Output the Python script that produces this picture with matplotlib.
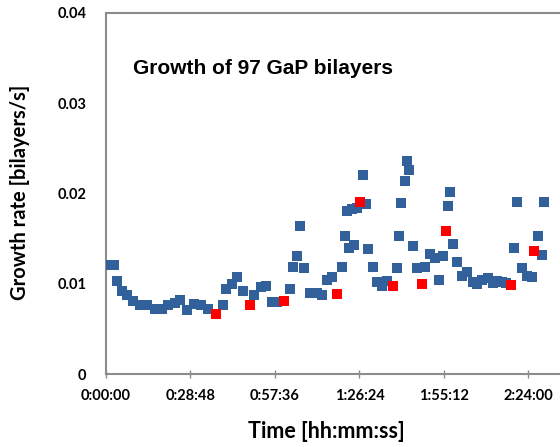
import matplotlib.pyplot as plt
import matplotlib.ticker as mticker

# growth time in minutes, rate in bilayers/s
t_blue = [1.4, 2.7, 3.8, 5.5, 7.2, 9.2, 11.6, 14.0, 16.7, 19.1, 21.1, 23.5,
          25.2, 27.6, 30.0, 32.4, 34.8, 39.9, 40.9, 42.9, 44.6, 46.7, 50.4,
          52.8, 54.5, 56.6, 58.3, 62.7, 63.7, 65.1, 66.1, 67.5, 69.5, 71.9,
          73.6, 75.3, 77.0, 80.4, 81.5, 82.8, 84.5, 82.1, 83.8, 85.5, 88.6,
          87.6, 89.3, 91.0, 92.4, 94.1, 95.8, 99.2, 99.9, 100.5, 101.9, 103.3,
          102.6, 104.6, 106.0, 108.7, 110.4, 112.1, 113.5, 114.9, 116.6, 117.2,
          118.3, 119.6, 121.3, 123.0, 125.1, 126.4, 128.1, 130.2, 131.9, 133.3,
          135.0, 136.3, 139.0, 140.1, 141.8, 143.5, 145.2, 147.2, 148.6, 149.3]
r_blue = [0.0121, 0.0121, 0.0103, 0.0092, 0.0087, 0.0081, 0.0076, 0.0076,
          0.0072, 0.0072, 0.0076, 0.0079, 0.0082, 0.0071, 0.0078, 0.0076,
          0.0072, 0.0077, 0.0094, 0.0100, 0.0107, 0.0092, 0.0087, 0.0096,
          0.0097, 0.0080, 0.0080, 0.0094, 0.0119, 0.0131, 0.0164, 0.0117,
          0.0090, 0.0090, 0.0087, 0.0104, 0.0108, 0.0119, 0.0153, 0.0140,
          0.0143, 0.0181, 0.0183, 0.0184, 0.0188, 0.0220, 0.0138, 0.0119,
          0.0102, 0.0098, 0.0103, 0.0117, 0.0153, 0.0189, 0.0214, 0.0226,
          0.0236, 0.0142, 0.0117, 0.0119, 0.0133, 0.0128, 0.0104, 0.0131,
          0.0186, 0.0202, 0.0144, 0.0124, 0.0109, 0.0113, 0.0102, 0.0100,
          0.0104, 0.0106, 0.0101, 0.0103, 0.0102, 0.0101, 0.0140, 0.0191,
          0.0117, 0.0109, 0.0107, 0.0153, 0.0132, 0.0191]

# highlighted bilayers
t_red = [37.5, 49.1, 60.7, 78.7, 86.6, 97.8, 107.7, 115.9, 138.0, 145.9]
r_red = [0.0067, 0.0076, 0.0081, 0.0089, 0.0191, 0.0097, 0.0100, 0.0158,
         0.0099, 0.0136]

tick_min = [0, 28.8, 57.6, 86.4, 115.2, 144.0]
tick_lbl = ["0:00:00", "0:28:48", "0:57:36", "1:26:24", "1:55:12", "2:24:00"]

lato = ["Lato", "DejaVu Sans"]

fig = plt.figure(figsize=(5.6, 4.47), dpi=100)
ax = fig.add_axes([106 / 560, 73 / 447, 507 / 560, 361 / 447])

ax.scatter(t_blue, r_blue, marker="s", s=44, color="#32609a", linewidths=0,
           zorder=3)
ax.scatter(t_red, r_red, marker="s", s=44, color="#ff0000", linewidths=0,
           zorder=4)

ax.set_xlim(0, 172.8)
ax.set_ylim(0, 0.04)
ax.set_xticks(tick_min)
ax.set_xticklabels(tick_lbl)
ax.set_yticks([0, 0.01, 0.02, 0.03, 0.04])
ax.yaxis.set_major_formatter(mticker.FuncFormatter(
    lambda v, p: "0" if v == 0 else "%.2f" % v))

for s in ax.spines.values():
    s.set_color("#8c8c8c")
    s.set_linewidth(1.5)

ax.tick_params(axis="x", direction="inout", length=6, width=1,
               color="#8c8c8c", pad=8)
ax.tick_params(axis="y", length=0, pad=14)
for lbl in ax.get_xticklabels() + ax.get_yticklabels():
    lbl.set_fontfamily(lato)
    lbl.set_fontweight("bold")
    lbl.set_fontsize(10.5)

ax.set_xlabel("Time [hh:mm:ss]", family=lato, fontweight="bold", fontsize=15.5,
              va="center")
ax.xaxis.set_label_coords((326 - 106) / 507, -(432 - 374) / 361)
ax.set_ylabel("Growth rate [bilayers/s]", family=lato, fontweight="bold",
              fontsize=14.5, va="center")
ax.yaxis.set_label_coords(-(106 - 20) / 507, (374 - 192) / 361)

ax.text(133 / 560, 1 - 69 / 447, "Growth of 97 GaP bilayers",
        transform=fig.transFigure, family="Liberation Sans",
        fontweight="bold", fontsize=15, ha="left", va="center")

fig.savefig("out.png", dpi=100)
